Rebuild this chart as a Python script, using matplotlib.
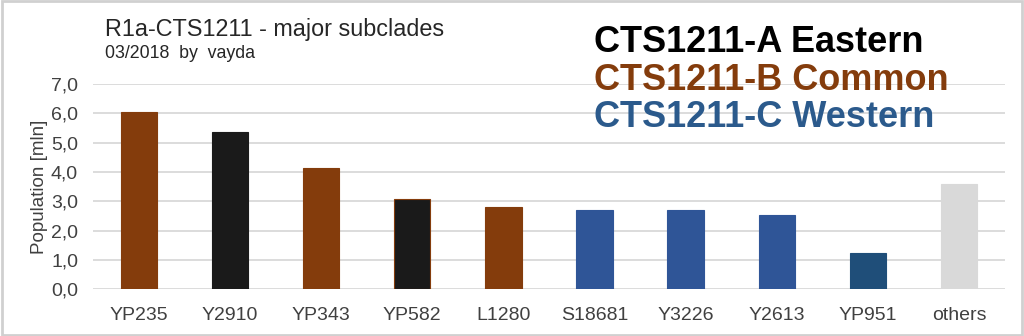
import matplotlib.pyplot as plt
from matplotlib.patches import Rectangle
from matplotlib.ticker import FuncFormatter

plt.rcParams['font.family'] = ['Liberation Sans', 'DejaVu Sans']

BROWN = '#843C0C'
BLACK = '#1A1A1A'
BLUE = '#2F5597'
DARK_BLUE = '#1F4E79'
GREY = '#D9D9D9'

subclades = ['YP235', 'Y2910', 'YP343', 'YP582', 'L1280', 'S18681', 'Y3226', 'Y2613', 'YP951', 'others']
population = [6.05, 5.37, 4.12, 3.07, 2.80, 2.70, 2.70, 2.55, 1.25, 3.60]
bar_colors = [BROWN, BLACK, BROWN, BLACK, BROWN, BLUE, BLUE, BLUE, DARK_BLUE, GREY]
edge_colors = [BROWN, BLACK, BROWN, BROWN, BROWN, BLUE, BLUE, BLUE, DARK_BLUE, GREY]

groups = ['CTS1211-A Eastern', 'CTS1211-B Common', 'CTS1211-C Western']
group_colors = ['#000000', BROWN, '#2B5A8C']

fig = plt.figure(figsize=(10.24, 3.36), dpi=100)
ax = fig.add_axes([0.0911, 0.139, 0.8899, 0.611])

x = range(len(subclades))
ax.bar(x, population, width=0.4, color=bar_colors, edgecolor=edge_colors, linewidth=0.8, zorder=3)

ax.set_xlim(-0.5, len(subclades) - 0.5)
ax.set_ylim(0, 7)
ax.set_yticks([0, 1, 2, 3, 4, 5, 6, 7])
ax.yaxis.set_major_formatter(FuncFormatter(lambda v, p: ('%.1f' % v).replace('.', ',')))
ax.set_xticks(list(x))
ax.set_xticklabels(subclades)
ax.grid(axis='y', color='#D9D9D9', linewidth=1.3, zorder=0)
for s in ax.spines.values():
    s.set_visible(False)
ax.tick_params(axis='both', length=0, colors='#404040', labelsize=14)
ax.tick_params(axis='x', pad=13)
ax.tick_params(axis='y', pad=11)
ax.set_ylabel('Population [mln]', fontsize=13.5, color='#404040', labelpad=2)

fig.text(0.1025, 0.893, 'R1a-CTS1211 - major subclades', fontsize=16.8, color='#262626')
fig.text(0.1025, 0.826, '03/2018  by  vayda', fontsize=12.8, color='#262626')

for i, (g, c) in enumerate(zip(groups, group_colors)):
    fig.text(0.58, 0.845 - i * 0.1115, g, fontsize=26, fontweight='bold', color=c)

fig.patches.append(Rectangle((0.002, 0.004), 0.996, 0.992, transform=fig.transFigure,
                             fill=False, edgecolor='#D0D0D0', linewidth=2))

fig.savefig('out.png', dpi=100)
